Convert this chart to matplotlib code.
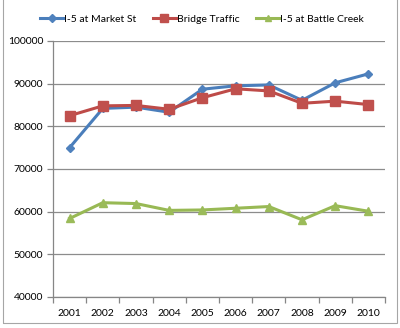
import matplotlib
matplotlib.use('Agg')
import matplotlib.pyplot as plt
import numpy as np
from matplotlib.patches import Rectangle

# traffic counts by year
years = ['2001', '2002', '2003', '2004', '2005', '2006', '2007', '2008', '2009', '2010']
market_st = [75000, 84200, 84500, 83300, 88700, 89500, 89700, 86100, 90200, 92300]
bridge = [82500, 84800, 84900, 84000, 86700, 88800, 88300, 85400, 85900, 85100]
battle_creek = [58400, 62100, 61900, 60300, 60400, 60800, 61200, 58100, 61400, 60100]

plt.rcParams['font.family'] = ['Lato', 'DejaVu Sans']

fig = plt.figure(figsize=(4.0, 3.28), dpi=100)
fig.patch.set_facecolor('white')

# chart frame
fig.patches.append(Rectangle((3/400, 1 - 323/328), 394/400, 330/328,
                             transform=fig.transFigure, fill=False,
                             edgecolor='#a6a6a6', linewidth=0.8))

ax = fig.add_axes([53/400, 1 - 297/328, 332/400, 256/328])

x = np.arange(len(years))
ax.plot(x, market_st, color='#4a7ebb', linewidth=2.2, marker='D', markersize=4.5,
        markerfacecolor='#4f81bd', markeredgecolor='#4f81bd', label='I-5 at Market St', zorder=3)
ax.plot(x, bridge, color='#be4b48', linewidth=2.2, marker='s', markersize=6.5,
        markerfacecolor='#c0504d', markeredgecolor='#c0504d', label='Bridge Traffic', zorder=3)
ax.plot(x, battle_creek, color='#98b954', linewidth=2.2, marker='^', markersize=6,
        markerfacecolor='#9bbb59', markeredgecolor='#9bbb59', label='I-5 at Battle Creek', zorder=3)

ax.set_xlim(-0.5, len(years) - 0.5)
ax.set_ylim(40000, 100000)
ax.set_yticks(np.arange(40000, 100001, 10000))
ax.yaxis.grid(True, color='#8c8c8c', linewidth=0.9)
ax.set_axisbelow(True)

ax.set_xticks(x)
ax.set_xticklabels(years)
ax.set_xticks(np.arange(-0.5, len(years)), minor=True)
ax.tick_params(axis='x', which='major', length=0, pad=9, labelsize=7.5)
ax.tick_params(axis='x', which='minor', length=4, color='#868686', width=0.9)
ax.tick_params(axis='y', length=4, color='#868686', width=0.9, labelsize=7.5, pad=3)

for s in ['top', 'right']:
    ax.spines[s].set_visible(False)
for s in ['left', 'bottom']:
    ax.spines[s].set_color('#868686')
    ax.spines[s].set_linewidth(0.9)

fig.legend(loc='center', bbox_to_anchor=(0.505, 1 - 19/328), ncol=3, frameon=False,
           fontsize=7.5, handlelength=2.2, handletextpad=0.1, columnspacing=1.6,
           markerscale=0.8)

fig.savefig('out.png', dpi=100)
